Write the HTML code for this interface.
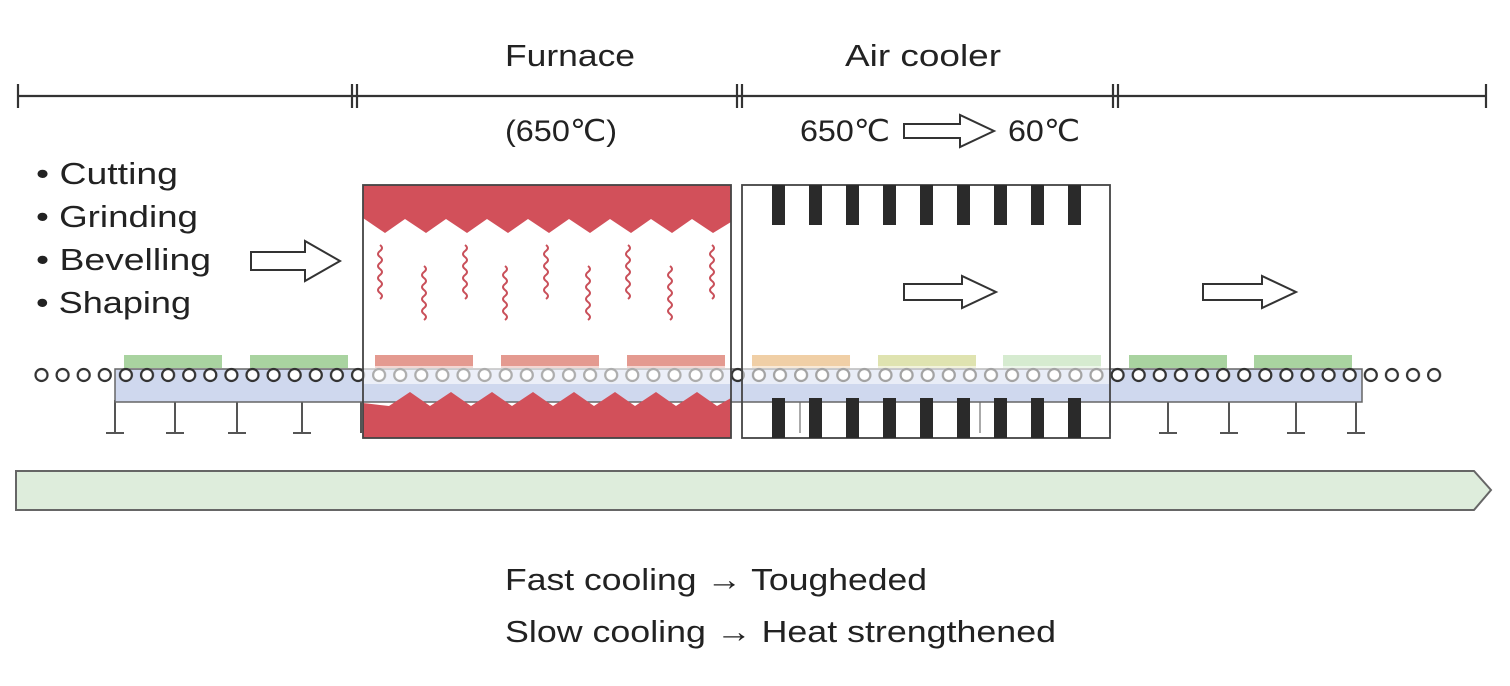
<!DOCTYPE html>
<html><head><meta charset="utf-8"><style>
html,body{margin:0;padding:0;background:#fff;}
svg{display:block;}
text{font-family:"Liberation Sans","DejaVu Sans",sans-serif;fill:#222;}
</style></head><body>
<svg width="1510" height="686" viewBox="0 0 1510 686" xmlns="http://www.w3.org/2000/svg">
<defs>
<pattern id="rol" x="31" y="366" width="21.1" height="18" patternUnits="userSpaceOnUse">
<circle cx="10.5" cy="9" r="6" fill="#fff" stroke="#333" stroke-width="2.2"/>
</pattern>
<path id="sq" d="M0 0 q4 3 0 6 q-4 3 0 6 q4 3 0 6 q-4 3 0 6 q4 3 0 6 q-4 3 0 6 q4 3 0 6 q-4 3 0 6 q4 3 0 6" fill="none" stroke="#c9505a" stroke-width="2"/>
</defs>
<g stroke="#333" stroke-width="2.2">
<line x1="18" y1="96" x2="1486" y2="96"/>
<line x1="18" y1="84" x2="18" y2="108"/>
<line x1="352" y1="84" x2="352" y2="108"/><line x1="357" y1="84" x2="357" y2="108"/>
<line x1="737" y1="84" x2="737" y2="108"/><line x1="742" y1="84" x2="742" y2="108"/>
<line x1="1113" y1="84" x2="1113" y2="108"/><line x1="1118" y1="84" x2="1118" y2="108"/>
<line x1="1486" y1="84" x2="1486" y2="108"/>
</g>
<text x="505" y="66" font-size="31" textLength="130" lengthAdjust="spacingAndGlyphs">Furnace</text>
<text x="505" y="141" font-size="30" textLength="112" lengthAdjust="spacingAndGlyphs">(650℃)</text>
<text x="845" y="66" font-size="31" textLength="156" lengthAdjust="spacingAndGlyphs">Air cooler</text>
<text x="800" y="141" font-size="30" textLength="90" lengthAdjust="spacingAndGlyphs">650℃</text>
<text x="1008" y="141" font-size="30" textLength="72" lengthAdjust="spacingAndGlyphs">60℃</text>
<g font-size="31">
<text x="36" y="184" textLength="142" lengthAdjust="spacingAndGlyphs">• Cutting</text>
<text x="36" y="227" textLength="162" lengthAdjust="spacingAndGlyphs">• Grinding</text>
<text x="36" y="270" textLength="175" lengthAdjust="spacingAndGlyphs">• Bevelling</text>
<text x="36" y="313" textLength="155" lengthAdjust="spacingAndGlyphs">• Shaping</text>
</g>
<g fill="#fff" stroke="#333" stroke-width="2">
<path d="M251 252 H305 V241 L340 261 L305 281 V270 H251 Z"/>
<path d="M904 124 H960 V115 L994 131 L960 147 V138 H904 Z"/>
<path d="M904 284 H962 V276 L996 292 L962 308 V300 H904 Z"/>
<path d="M1203 284 H1262 V276 L1296 292 L1262 308 V300 H1203 Z"/>
</g>
<g stroke="#555" stroke-width="2">
<line x1="115" y1="400" x2="115" y2="433"/><line x1="106" y1="433" x2="124" y2="433"/>
<line x1="175" y1="400" x2="175" y2="433"/><line x1="166" y1="433" x2="184" y2="433"/>
<line x1="237" y1="400" x2="237" y2="433"/><line x1="228" y1="433" x2="246" y2="433"/>
<line x1="302" y1="400" x2="302" y2="433"/><line x1="293" y1="433" x2="311" y2="433"/>
<line x1="361" y1="400" x2="361" y2="433"/>
<line x1="800" y1="400" x2="800" y2="433" stroke="#aaa"/>
<line x1="980" y1="400" x2="980" y2="433" stroke="#aaa"/>
<line x1="1110" y1="400" x2="1110" y2="433" stroke="#aaa"/>
<line x1="1168" y1="400" x2="1168" y2="433"/><line x1="1159" y1="433" x2="1177" y2="433"/>
<line x1="1229" y1="400" x2="1229" y2="433"/><line x1="1220" y1="433" x2="1238" y2="433"/>
<line x1="1296" y1="400" x2="1296" y2="433"/><line x1="1287" y1="433" x2="1305" y2="433"/>
<line x1="1356" y1="400" x2="1356" y2="433"/><line x1="1347" y1="433" x2="1365" y2="433"/>
</g>
<rect x="115" y="369" width="1247" height="33" fill="#cfd8ee" stroke="#666" stroke-width="1.5"/>
<rect x="124" y="355" width="98" height="13" fill="#a9d3a0"/>
<rect x="250" y="355" width="98" height="13" fill="#a9d3a0"/>
<rect x="375" y="355" width="98" height="13" fill="#e49a90"/>
<rect x="501" y="355" width="98" height="13" fill="#e49a90"/>
<rect x="627" y="355" width="98" height="13" fill="#e49a90"/>
<rect x="752" y="355" width="98" height="13" fill="#f0cfa6"/>
<rect x="878" y="355" width="98" height="13" fill="#dfe3b0"/>
<rect x="1003" y="355" width="98" height="13" fill="#d6ebd0"/>
<rect x="1129" y="355" width="98" height="13" fill="#a9d3a0"/>
<rect x="1254" y="355" width="98" height="13" fill="#a9d3a0"/>
<rect x="31" y="366" width="1412" height="18" fill="url(#rol)"/>
<rect x="364" y="366" width="366" height="18" fill="#fff" opacity="0.6"/>
<rect x="743" y="366" width="366" height="18" fill="#fff" opacity="0.55"/>
<path d="M363 185 H731 V222 L713 233 L692 219 L672 233 L651 219 L631 233 L610 219 L590 233 L569 219 L549 233 L528 219 L508 233 L487 219 L467 233 L446 219 L426 233 L405 219 L385 233 L363 218 Z" fill="#d2505a"/>
<path d="M363 403 L389 406 L410 392 L430 406 L451 392 L471 406 L492 392 L512 406 L533 392 L553 406 L574 392 L594 406 L615 392 L635 406 L656 392 L676 406 L697 392 L717 406 L731 398 V438 H363 Z" fill="#d2505a"/>
<rect x="363" y="185" width="368" height="253" fill="none" stroke="#444" stroke-width="1.8"/>
<g>
<use href="#sq" x="380" y="245"/><use href="#sq" x="424" y="266"/>
<use href="#sq" x="465" y="245"/><use href="#sq" x="505" y="266"/>
<use href="#sq" x="546" y="245"/><use href="#sq" x="588" y="266"/>
<use href="#sq" x="628" y="245"/><use href="#sq" x="670" y="266"/>
<use href="#sq" x="712" y="245"/>
</g>
<rect x="742" y="185" width="368" height="253" fill="none" stroke="#444" stroke-width="1.8"/>
<g fill="#2a2a2a">
<rect x="772" y="185" width="13" height="40"/><rect x="809" y="185" width="13" height="40"/>
<rect x="846" y="185" width="13" height="40"/><rect x="883" y="185" width="13" height="40"/>
<rect x="920" y="185" width="13" height="40"/><rect x="957" y="185" width="13" height="40"/>
<rect x="994" y="185" width="13" height="40"/><rect x="1031" y="185" width="13" height="40"/>
<rect x="1068" y="185" width="13" height="40"/>
<rect x="772" y="398" width="13" height="40"/><rect x="809" y="398" width="13" height="40"/>
<rect x="846" y="398" width="13" height="40"/><rect x="883" y="398" width="13" height="40"/>
<rect x="920" y="398" width="13" height="40"/><rect x="957" y="398" width="13" height="40"/>
<rect x="994" y="398" width="13" height="40"/><rect x="1031" y="398" width="13" height="40"/>
<rect x="1068" y="398" width="13" height="40"/>
</g>
<path d="M16 471 H1474 L1491 490 L1474 510 H16 Z" fill="#deeddc" stroke="#666" stroke-width="2"/>
<text x="505" y="590" font-size="31" textLength="422" lengthAdjust="spacingAndGlyphs">Fast cooling → Tougheded</text>
<text x="505" y="642" font-size="31" textLength="551" lengthAdjust="spacingAndGlyphs">Slow cooling → Heat strengthened</text>
</svg>
</body></html>
